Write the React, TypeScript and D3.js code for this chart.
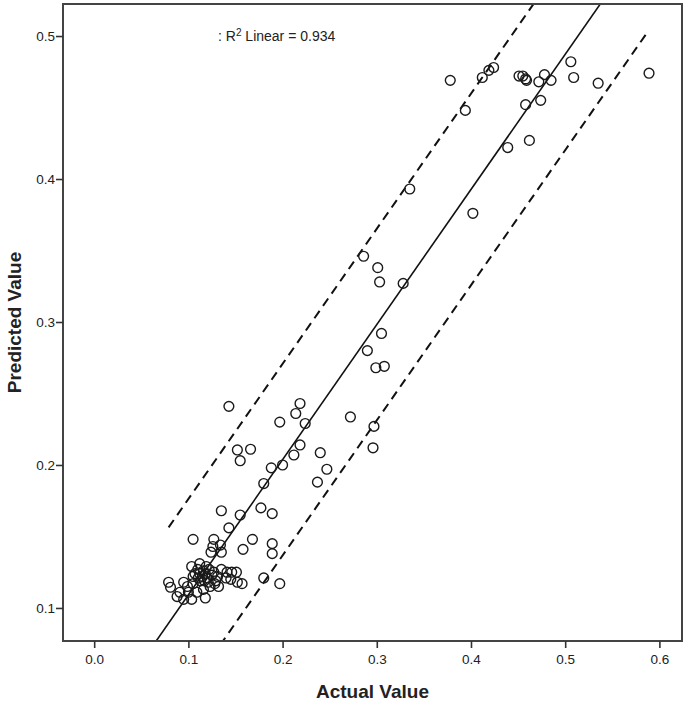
import React, { useRef, useEffect } from 'react';
import * as d3 from 'd3';

// values (actual vs predicted)
const actualValues = [
  0.378, 0.412, 0.419, 0.424, 0.394, 0.451, 0.455, 0.458, 0.459, 0.472,
  0.478, 0.485, 0.506, 0.509, 0.535, 0.589, 0.474, 0.458, 0.462, 0.439,
  0.335, 0.402, 0.286, 0.301, 0.303, 0.328, 0.305, 0.290, 0.299, 0.308,
  0.143, 0.2185, 0.214, 0.197, 0.224, 0.152, 0.166, 0.155, 0.2185, 0.212,
  0.240, 0.247, 0.237, 0.188, 0.200, 0.180, 0.177, 0.189, 0.135, 0.155,
  0.143, 0.105, 0.127, 0.168, 0.272, 0.297, 0.296,
  0.126, 0.134, 0.124, 0.135, 0.158, 0.189, 0.189, 0.180, 0.197, 0.079,
  0.081, 0.095, 0.1035, 0.112, 0.107, 0.112, 0.125, 0.129, 0.135, 0.141,
  0.146, 0.151, 0.152, 0.157, 0.132, 0.123, 0.088, 0.095, 0.1035, 0.118,
  0.091, 0.100, 0.109, 0.116, 0.105, 0.1105, 0.105, 0.119, 0.128,
  0.115, 0.118, 0.113, 0.120, 0.116, 0.122, 0.110, 0.117, 0.127, 0.121,
  0.140, 0.145, 0.099, 0.131,
];

const predictedValues = [
  0.469, 0.471, 0.476, 0.478, 0.448, 0.472, 0.472, 0.470, 0.469, 0.468,
  0.473, 0.469, 0.482, 0.471, 0.467, 0.474, 0.455, 0.452, 0.427, 0.422,
  0.393, 0.376, 0.346, 0.338, 0.328, 0.327, 0.292, 0.280, 0.268, 0.269,
  0.241, 0.243, 0.236, 0.230, 0.229, 0.2105, 0.211, 0.203, 0.214, 0.207,
  0.2086, 0.197, 0.188, 0.198, 0.200, 0.187, 0.170, 0.166, 0.168, 0.165,
  0.156, 0.148, 0.148, 0.148, 0.2336, 0.227, 0.212,
  0.143, 0.144, 0.139, 0.139, 0.141, 0.145, 0.138, 0.121, 0.117, 0.118,
  0.1145, 0.118, 0.129, 0.131, 0.124, 0.124, 0.123, 0.119, 0.127, 0.125,
  0.125, 0.125, 0.118, 0.117, 0.115, 0.115, 0.108, 0.106, 0.106, 0.107,
  0.111, 0.111, 0.111, 0.113, 0.117, 0.121, 0.122, 0.129, 0.117,
  0.122, 0.124, 0.119, 0.121, 0.126, 0.127, 0.127, 0.119, 0.125, 0.118,
  0.121, 0.120, 0.115, 0.122,
];

const xTicks = [0.0, 0.1, 0.2, 0.3, 0.4, 0.5, 0.6];
const yTicks = [0.1, 0.2, 0.3, 0.4, 0.5];

// fit line and its interval, as shown on the chart
const fitIntercept = 0.0147;
const fitSlope = 0.945;
const intervalHalfWidth = 0.067;
const rSquared = 0.934;

const App = () => {
  const ref = useRef<SVGSVGElement>(null);

  useEffect(() => {
    const svg = d3.select(ref.current);
    svg.selectAll('*').remove();

    const width = 692;
    const height = 705;
    const left = 63, right = 682, top = 4, bottom = 641;
    const font = "'Liberation Sans Narrow', 'Liberation Sans', Arial, sans-serif";

    const x = d3.scaleLinear().domain([-0.0331, 0.624]).range([left, right]);
    const y = d3.scaleLinear().domain([0.0769, 0.5224]).range([bottom, top]);

    svg.attr('width', width).attr('height', height);

    svg.append('clipPath').attr('id', 'plotclip')
      .append('rect').attr('x', left).attr('y', top).attr('width', right - left).attr('height', bottom - top);

    const pts = actualValues.map((a, i) => ({ a, p: predictedValues[i] }));
    const minA = d3.min(actualValues) as number;
    const maxA = d3.max(actualValues) as number;

    const fit = (a: number) => fitIntercept + fitSlope * a;
    const line = d3.line<number[]>().x(d => x(d[0])).y(d => y(d[1]));

    const g = svg.append('g').attr('clip-path', 'url(#plotclip)');

    // fit line across the whole x range
    const [x0, x1] = x.domain();
    g.append('path').attr('d', line([[x0, fit(x0)], [x1, fit(x1)]]))
      .attr('fill', 'none').attr('stroke', '#111').attr('stroke-width', 1.6);

    // interval lines over the data range
    [intervalHalfWidth, -intervalHalfWidth].forEach(off => {
      g.append('path').attr('d', line([[minA, fit(minA) + off], [maxA, fit(maxA) + off]]))
        .attr('fill', 'none').attr('stroke', '#111').attr('stroke-width', 2)
        .attr('stroke-dasharray', '9,6');
    });

    g.selectAll('circle').data(pts).join('circle')
      .attr('cx', d => x(d.a)).attr('cy', d => y(d.p)).attr('r', 4.9)
      .attr('fill', 'none').attr('stroke', '#1a1a1a').attr('stroke-width', 1.4);

    // frame
    svg.append('rect').attr('x', left).attr('y', top).attr('width', right - left).attr('height', bottom - top)
      .attr('fill', 'none').attr('stroke', '#444').attr('stroke-width', 2);

    // x axis
    const xa = svg.append('g').attr('transform', `translate(0,${bottom})`)
      .call(d3.axisBottom(x).tickValues(xTicks).tickFormat(d3.format('.1f')).tickSize(7).tickSizeOuter(0));
    xa.select('.domain').remove();
    xa.selectAll('line').attr('stroke', '#333').attr('stroke-width', 1.6);
    xa.selectAll('text').attr('font-family', font).attr('font-size', 13.5).attr('fill', '#222').attr('dy', '0.95em');

    // y axis
    const ya = svg.append('g').attr('transform', `translate(${left},0)`)
      .call(d3.axisLeft(y).tickValues(yTicks).tickFormat(d3.format('.1f')).tickSize(7).tickPadding(1).tickSizeOuter(0));
    ya.select('.domain').remove();
    ya.selectAll('line').attr('stroke', '#333').attr('stroke-width', 1.6);
    ya.selectAll('text').attr('font-family', font).attr('font-size', 13.5).attr('fill', '#222');

    svg.append('text').attr('x', (left + right) / 2).attr('y', 698).attr('text-anchor', 'middle')
      .attr('font-family', font).attr('font-weight', 'bold').attr('font-size', 19).attr('fill', '#222')
      .text('Actual Value');

    svg.append('text').attr('transform', `translate(21,${(top + bottom) / 2}) rotate(-90)`).attr('text-anchor', 'middle')
      .attr('font-family', font).attr('font-weight', 'bold').attr('font-size', 19).attr('fill', '#222')
      .text('Predicted Value');

    const ann = svg.append('text').attr('x', 218).attr('y', 41)
      .attr('font-family', font).attr('font-size', 14).attr('fill', '#222');
    ann.append('tspan').text(': R');
    ann.append('tspan').attr('font-size', 10).attr('dy', -5).text('2');
    ann.append('tspan').attr('dy', 5).text(` Linear = ${rSquared.toFixed(3)}`);
  }, []);

  return <svg ref={ref} style={{ position: 'absolute', left: 0, top: 0, display: 'block' }} />;
};

export default App;
